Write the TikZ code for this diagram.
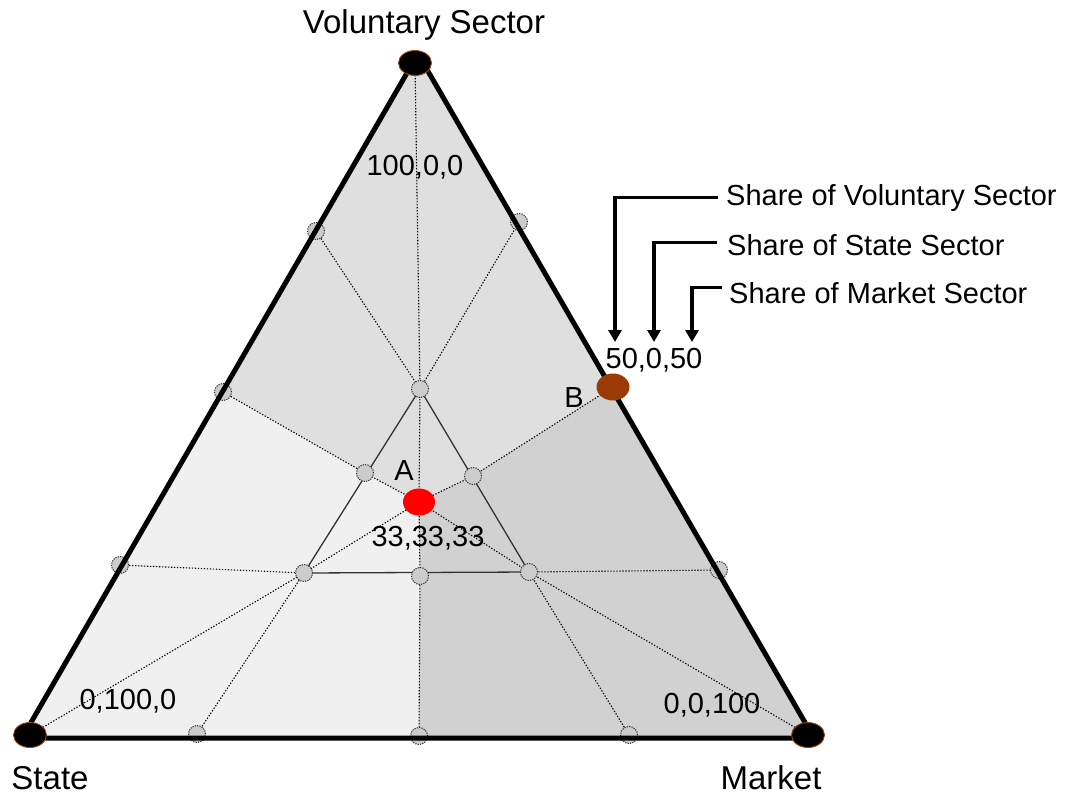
\documentclass[tikz,border=0pt]{standalone}
\usepackage{fontspec}
\setmainfont{Liberation Sans}
\usepackage{xcolor}
\usetikzlibrary{shapes.geometric,arrows.meta}

\definecolor{topgray}{gray}{0.875}
\definecolor{leftgray}{gray}{0.94}
\definecolor{rightgray}{gray}{0.82}
\definecolor{knotgray}{gray}{0.80}
\definecolor{rust}{RGB}{156,58,6}
\definecolor{rim}{RGB}{150,70,20}

\begin{document}
\begin{tikzpicture}[x=1pt,y=-1pt,
		corner/.style={ellipse, fill=black, draw=rim, line width=0.9pt, minimum width=33pt, minimum height=25pt, inner sep=0pt},
		knot/.style={circle, fill=knotgray, draw=black!85, dash pattern=on 1.2pt off 1.2pt, line width=1pt, minimum size=17pt, inner sep=0pt},
		guide/.style={dash pattern=on 1.3pt off 1.7pt, line width=1.1pt},
		biglbl/.style={font=\fontsize{33}{36}\selectfont, inner sep=0pt},
		numlbl/.style={font=\fontsize{29}{32}\selectfont, inner sep=0pt},
		share/.style={line width=3.2pt, -{Triangle[width=13pt,length=12pt]}}]
		\useasboundingbox (0,0) rectangle (1074,796);
		% corners of the triangle and the points on it
		\coordinate (V) at (418,54);
		\coordinate (S) at (22,738);
		\coordinate (M) at (814,738);
		\coordinate (vV) at (415,63);
		\coordinate (vS) at (30,735);
		\coordinate (vM) at (808,735);
		\coordinate (l1) at (316,231);
		\coordinate (l2) at (223,392);
		\coordinate (l3) at (120,565);
		\coordinate (r1) at (519,222);
		\coordinate (B) at (613,387);
		\coordinate (r3) at (719,570);
		\coordinate (b1) at (197,734);
		\coordinate (b2) at (419,736);
		\coordinate (b3) at (629,735);
		\coordinate (p1) at (420,389);
		\coordinate (p2) at (304,573);
		\coordinate (p3) at (529,572);
		\coordinate (ml) at (365,473);
		\coordinate (mr) at (473,476);
		\coordinate (mb) at (420,576);
		\coordinate (A) at (419,502);
		% shaded regions
		\fill[topgray] (V) -- (S) -- (M) -- cycle;
		\fill[leftgray] (S) -- (l2) -- (ml) -- (A) -- (mb) -- (b2) -- cycle;
		\fill[rightgray] (A) -- (mr) -- (B) -- (M) -- (b2) -- (mb) -- cycle;
		% dotted guide lines
		\draw[guide] (vV) -- (p1) -- (A) -- (mb) -- (b2);
		\draw[guide] (l1) -- (p1) -- (r1);
		\draw[guide] (l2) -- (ml) -- (A) -- (mr) -- (B);
		\draw[guide] (l3) -- (p2) -- (A) -- (p3) -- (r3);
		\draw[guide] (vS) -- (p2) -- (b1);
		\draw[guide] (vM) -- (p3) -- (b3);
		\draw[line width=1.3pt, black!80] (p1) -- (p2) -- (p3) -- cycle;
		\foreach \c in {l1,l2,l3,r1,r3,b1,b2,b3,p1,p2,p3,ml,mr,mb}
			\node[knot] (k-\c) at (\c) {};
		\draw[line width=5pt, line join=round] (V) -- (S) -- (M) -- cycle;
		\node[corner] (vol) at (vV) {};
		\node[corner] (sta) at (vS) {};
		\node[corner] (mar) at (vM) {};
		\node[ellipse, fill=red, minimum width=32pt, minimum height=27pt, inner sep=0pt] (ptA) at (A) {};
		\node[ellipse, fill=rust, minimum width=33pt, minimum height=27pt, inner sep=0pt] (ptB) at (B) {};
		% labels
		\node[biglbl, anchor=base] (lvol) at (424,33) {Voluntary Sector};
		\node[biglbl, anchor=base] (lsta) at (50,789) {State};
		\node[biglbl, anchor=base] (lmar) at (771,789) {Market};
		\node[numlbl, anchor=base] (nvol) at (415,175) {100,0,0};
		\node[numlbl, anchor=base] (nsta) at (128,709) {0,100,0};
		\node[numlbl, anchor=base] (nmar) at (712,713) {0,0,100};
		\node[numlbl, anchor=base] (nA) at (428,546) {33,33,33};
		\node[numlbl, anchor=base] (nB) at (654,368) {50,0,50};
		\node[numlbl, anchor=base] (lA) at (404,480) {A};
		\node[numlbl, anchor=base] (lB) at (574,407) {B};
		% shares
		\node[numlbl, anchor=base west] (svol) at (726,205) {Share of Voluntary Sector};
		\node[numlbl, anchor=base west] (ssta) at (727,255) {Share of State Sector};
		\node[numlbl, anchor=base west] (smar) at (729,303) {Share of Market Sector};
		\coordinate (tv) at (615,342);
		\coordinate (ts) at (654,342);
		\coordinate (tm) at (692,342);
		\draw[share] ([xshift=-8pt]svol.west) -| (tv);
		\draw[share] ([xshift=-10pt,yshift=2pt]ssta.west) -| (ts);
		\draw[share] ([xshift=-7pt,yshift=5pt]smar.west) -| (tm);
		\end{tikzpicture}
\end{document}
